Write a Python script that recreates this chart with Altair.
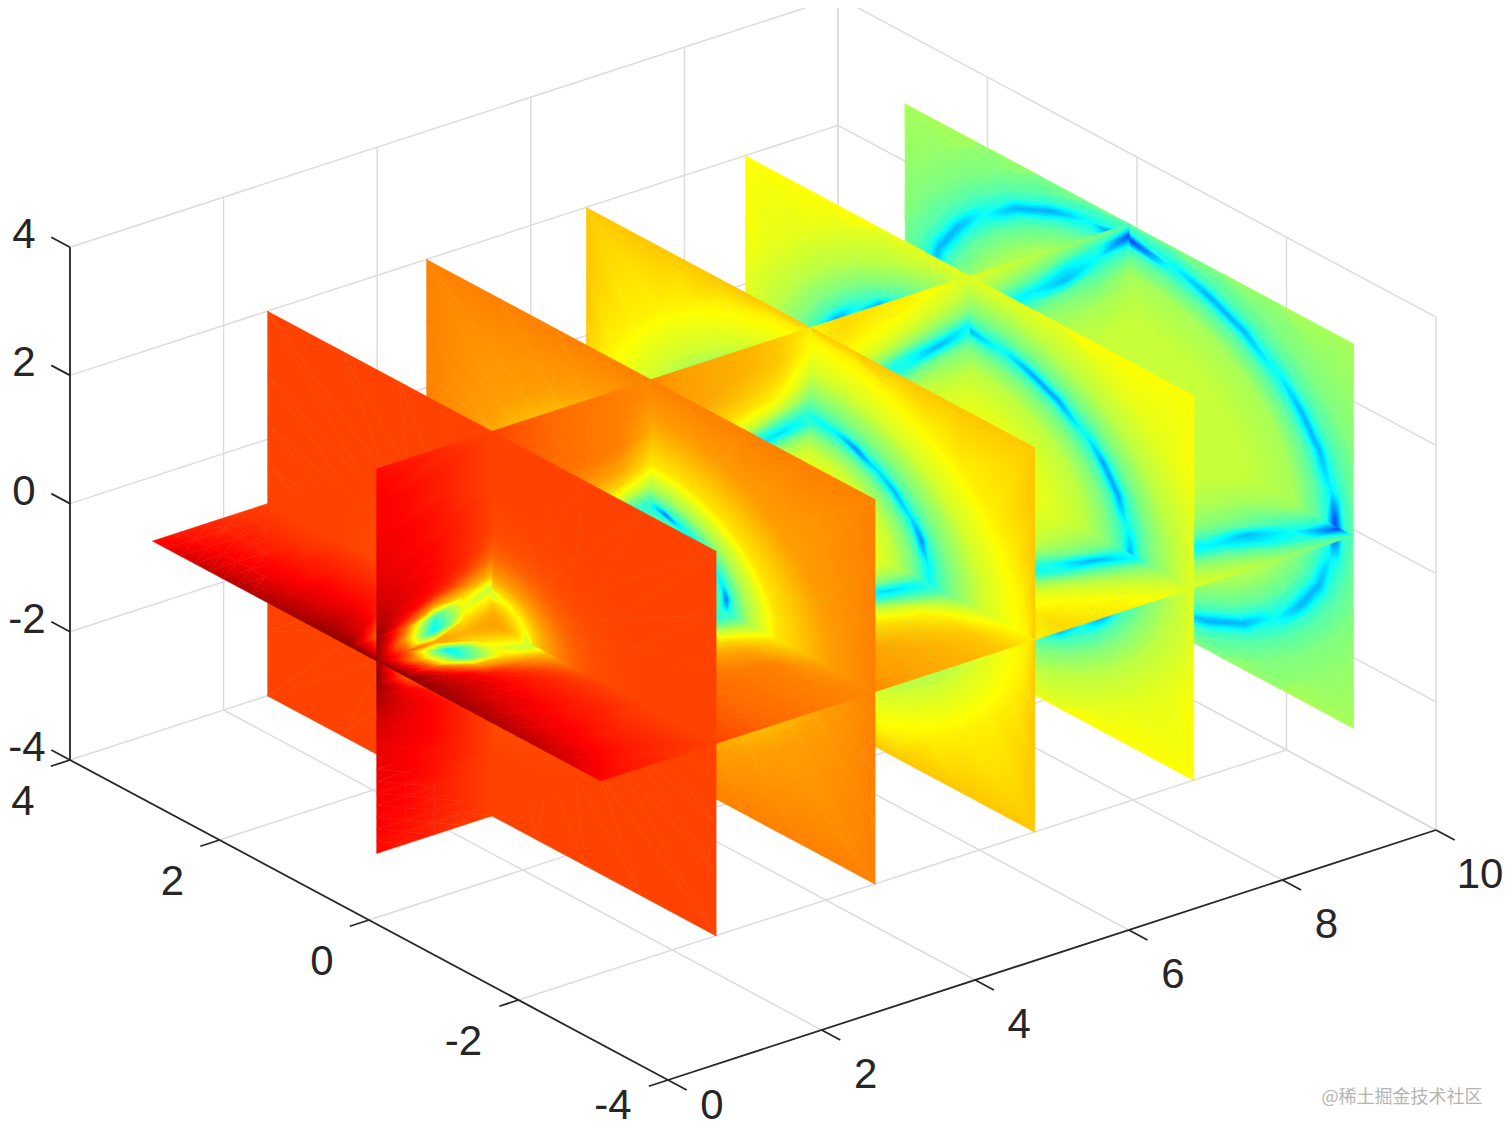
import math
import altair as alt

# ---------- values (percent of the jet colour range) ----------
SLICE_X = [1.6, 3.67, 5.75, 7.82, 9.9]
ANGLES = [0, 11.25, 22.5, 33.75, 45, 56.25, 67.5, 78.75, 90]

# each slice: distance from the axis, value at that distance, and the values along the dark ring
RADII_1 = [0, 0.2, 0.36, 0.46, 0.55, 0.7, 0.9, 1.1, 1.4, 2.0, 4.3]
VALUES_1 = [72, 70, 66, 62, 66, 71, 75, 78, 80, 81, 81]
RING_1 = [55, 60, 62, 62, 63, 62, 62, 60, 55]
RADII_2 = [0, 0.45, 0.7, 0.85, 0.95, 1.03, 1.12, 1.3, 1.7, 2.4, 4.3]
VALUES_2 = [66, 60, 52, 46, 42, 38, 44, 54, 65, 72, 75]
RING_2 = [38, 24, 36, 38, 38, 38, 36, 24, 38]
RADII_3 = [0, 0.7, 1.1, 1.35, 1.48, 1.6, 1.72, 1.9, 2.3, 2.9, 4.3]
VALUES_3 = [63, 62, 57, 50, 44, 38, 44, 50, 58, 64, 68]
RING_3 = [38, 36, 26, 34, 30, 34, 26, 36, 38]
RADII_4 = [0, 1.0, 1.55, 1.85, 2.02, 2.15, 2.28, 2.45, 2.75, 3.2, 4.3]
VALUES_4 = [60, 60, 56, 50, 44, 38, 44, 50, 56, 60, 62.5]
RING_4 = [30, 38, 28, 28, 38, 28, 28, 38, 30]
RADII_5 = [0, 1.5, 2.2, 2.5, 2.62, 2.75, 2.88, 3.0, 3.25, 3.6, 4.3]
VALUES_5 = [57, 57, 54, 47, 42, 38, 42, 46, 50, 52, 54]
RING_5 = [17, 36, 30, 30, 38, 30, 29, 38, 17]
SLICES = [(RADII_1, VALUES_1, RING_1, 3), (RADII_2, VALUES_2, RING_2, 5), (RADII_3, VALUES_3, RING_3, 5),
          (RADII_4, VALUES_4, RING_4, 5), (RADII_5, VALUES_5, RING_5, 5)]

PLANE_X = [0.1, 0.475, 0.85, 1.225, 1.6, 2.01, 2.43, 2.84, 3.26, 3.67, 4.09, 4.5, 4.92,
           5.33, 5.75, 6.16, 6.58, 6.99, 7.41, 7.82, 8.24, 8.65, 9.07, 9.48, 9.9]
PLANE_OFFSET = [0, 0.1875, 0.375, 0.5625, 0.75, 0.9375, 1.125, 1.3125, 1.5, 1.6875,
                1.875, 2.0625, 2.25, 2.4375, 2.625, 2.8125, 3]
# one column per PLANE_X value, one entry per PLANE_OFFSET value
PLANE_COLUMNS = [
    [98, 99, 99, 98, 98, 97, 97, 96, 96, 95, 95, 94, 93, 92, 91, 89, 87],
    [80, 72, 78, 90, 92, 92, 91, 91, 90, 90, 89, 89, 88, 88, 87, 86, 85],
    [72, 36, 42, 72, 85, 87, 87, 87, 87, 86, 86, 86, 85, 85, 85, 84, 84],
    [70, 66, 60, 66, 76, 82, 84, 84, 84, 84, 84, 83, 83, 83, 83, 83, 82],
    [72, 70, 65, 56, 69, 74, 78, 80, 81, 81, 81, 81, 81, 81, 81, 81, 81],
    [70, 69, 60, 40, 58, 66, 72, 76, 78, 79, 79, 79, 79, 79, 79, 79, 79],
    [68, 68, 66, 50, 42, 50, 62, 68, 72, 75, 76, 77, 77, 77, 77, 77, 77],
    [67, 67, 66, 62, 44, 44, 56, 65, 70, 73, 75, 76, 76, 76, 76, 76, 76],
    [66, 66, 66, 64, 56, 38, 48, 60, 67, 71, 73, 75, 75, 75, 75, 75, 75],
    [66, 64, 61, 57, 50, 42, 44, 54, 60, 65, 67, 69, 71, 72, 73, 74, 74],
    [65, 65, 65, 64, 61, 55, 36, 46, 59, 65, 68, 70, 72, 72, 72, 72, 72],
    [65, 65, 65, 64, 62, 58, 45, 38, 52, 62, 66, 68, 70, 71, 71, 71, 71],
    [64, 64, 64, 64, 62, 60, 55, 40, 40, 56, 62, 66, 68, 69, 70, 70, 70],
    [63, 63, 63, 63, 62, 60, 57, 50, 34, 46, 58, 63, 65, 67, 68, 68, 68],
    [63, 63, 62, 62, 62, 60, 57, 52, 42, 42, 49, 54, 58, 60, 62, 63, 64],
    [62, 62, 62, 62, 62, 61, 60, 56, 50, 37, 46, 56, 61, 63, 65, 66, 66],
    [61, 61, 61, 61, 61, 60, 60, 58, 53, 44, 38, 50, 58, 61, 63, 64, 65],
    [61, 61, 61, 61, 61, 60, 60, 59, 56, 50, 40, 40, 52, 58, 61, 63, 64],
    [60, 60, 60, 60, 60, 60, 59, 58, 56, 53, 48, 30, 46, 54, 58, 60, 62],
    [60, 60, 60, 60, 60, 60, 59, 58, 56, 53, 50, 42, 38, 50, 54, 57, 59],
    [59, 59, 59, 59, 59, 59, 58, 57, 56, 54, 52, 47, 38, 41, 50, 55, 58],
    [58, 58, 58, 58, 58, 58, 58, 57, 56, 55, 53, 50, 44, 36, 46, 52, 56],
    [58, 58, 58, 58, 58, 58, 58, 57, 56, 55, 53, 51, 47, 31, 36, 47, 53],
    [57, 57, 57, 57, 57, 57, 57, 57, 56, 55, 54, 51, 48, 44, 38, 42, 50],
    [57, 57, 57, 57, 57, 57, 57, 57, 57, 56, 55, 54, 53, 48, 42, 20, 46],
]
# the y=0 plane is lighter than the z=0 plane next to x=0
Y_PLANE_HEAD = [
    [98, 99, 98, 96, 94, 92, 91, 90, 90, 89, 89, 88, 88, 88, 88, 87, 87],
    [80, 72, 78, 88, 90, 90, 89, 89, 88, 88, 88, 87, 87, 87, 86, 86, 85],
]

X_TICKS = [0, 2, 4, 6, 8, 10]
Y_TICKS = [-4, -2, 0, 2, 4]
Z_TICKS = [-4, -2, 0, 2, 4]
JET_STOPS = [0, 12.5, 37.5, 62.5, 87.5, 100]
JET_RGB = [(0, 0, 128), (0, 0, 255), (0, 255, 255), (255, 255, 0), (255, 0, 0), (128, 0, 0)]
WATERMARK = "@稀土掘金技术社区"

# ---------- oblique view of the box, as measured from the axes ----------
ORIGIN = (668.0, 1080.0)
UX = (76.8, -25.0)
UY = (-74.75, -40.0)
UZ = (0.0, -64.1)


def view(x, y, z):
    return (ORIGIN[0] + UX[0] * x + UY[0] * (y + 4) + UZ[0] * (z + 4),
            ORIGIN[1] + UX[1] * x + UY[1] * (y + 4) + UZ[1] * (z + 4))


def jet(v):
    for k in range(len(JET_STOPS) - 1):
        a, b = JET_STOPS[k], JET_STOPS[k + 1]
        if v <= b:
            t = (v - a) / (b - a)
            c0, c1 = JET_RGB[k], JET_RGB[k + 1]
            return "#%02x%02x%02x" % tuple(round(p + (q - p) * t) for p, q in zip(c0, c1))
    return "#800000"


def paint(pts, vals):
    """Shade a triangle between its three corner values, as the picture's interpolated surface does."""
    lo, hi = min(vals), max(vals)
    if hi - lo < 0.25:
        return jet((lo + hi) / 2)
    xs, ys = [p[0] for p in pts], [p[1] for p in pts]
    bx, by = min(xs), min(ys)
    w, h = max(xs) - bx, max(ys) - by
    u = [((p[0] - bx) / w, (p[1] - by) / h) for p in pts]
    d = (u[1][0] - u[0][0]) * (u[2][1] - u[0][1]) - (u[2][0] - u[0][0]) * (u[1][1] - u[0][1])
    a = ((vals[1] - vals[0]) * (u[2][1] - u[0][1]) - (vals[2] - vals[0]) * (u[1][1] - u[0][1])) / d
    b = ((vals[2] - vals[0]) * (u[1][0] - u[0][0]) - (vals[1] - vals[0]) * (u[2][0] - u[0][0])) / d
    n = a * a + b * b
    i = vals.index(lo)
    x1, y1 = u[i]
    x2, y2 = x1 + a / n * (hi - lo), y1 + b / n * (hi - lo)
    levels = [lo] + [s for s in JET_STOPS if lo < s < hi] + [hi]
    return {"gradient": "linear", "x1": round(x1, 4), "y1": round(y1, 4), "x2": round(x2, 4), "y2": round(y2, 4),
            "stops": [{"offset": round((s - lo) / (hi - lo), 4), "color": jet(s)} for s in levels]}


cells = []


def add_quad(corners, values, key):
    pts = [view(*c) for c in corners]
    for tri in ((0, 1, 2), (0, 2, 3)):
        p = [pts[i] for i in tri]
        v = [values[i] for i in tri]
        area = abs((p[1][0] - p[0][0]) * (p[2][1] - p[0][1]) - (p[2][0] - p[0][0]) * (p[1][1] - p[0][1]))
        if area < 0.05:
            continue
        ring = [[round(q[0], 2), round(q[1], 2)] for q in p] + [[round(p[0][0], 2), round(p[0][1], 2)]]
        cells.append((key, {"type": "Feature", "properties": {"g": paint(p, v)},
                            "geometry": {"type": "Polygon", "coordinates": [ring]}}))


def slab_of(x_mid):
    return 2 * sum(1 for s in SLICE_X if x_mid > s) + 1


def slice_node(radius, angle):
    t = math.radians(angle)
    c, s = math.cos(t), math.sin(t)
    edge = 3 / max(c, s)
    r = min(radius, edge)
    return r * c, r * s


for k, (sx, (radii, values, ring, ring_at)) in enumerate(zip(SLICE_X, SLICES)):
    def val(i, j):
        return ring[j] if i == ring_at else values[i]
    for i in range(len(radii) - 1):
        for j in range(len(ANGLES) - 1):
            n = [slice_node(radii[i], ANGLES[j]), slice_node(radii[i + 1], ANGLES[j]),
                 slice_node(radii[i + 1], ANGLES[j + 1]), slice_node(radii[i], ANGLES[j + 1])]
            v = [val(i, j), val(i + 1, j), val(i + 1, j + 1), val(i, j + 1)]
            for sy in (-1, 1):
                for sz in (-1, 1):
                    add_quad([(sx, sy * a, sz * b) for a, b in n], v, (-(2 * k + 2), -sy, sz))


def y_column(c):
    return Y_PLANE_HEAD[c] if c < len(Y_PLANE_HEAD) else PLANE_COLUMNS[c]


for c in range(len(PLANE_X) - 1):
    x0, x1 = PLANE_X[c], PLANE_X[c + 1]
    s = slab_of((x0 + x1) / 2)
    for r in range(len(PLANE_OFFSET) - 1):
        a0, a1 = PLANE_OFFSET[r], PLANE_OFFSET[r + 1]
        v = [PLANE_COLUMNS[c][r], PLANE_COLUMNS[c + 1][r], PLANE_COLUMNS[c + 1][r + 1], PLANE_COLUMNS[c][r + 1]]
        w = [y_column(c)[r], y_column(c + 1)[r], y_column(c + 1)[r + 1], y_column(c)[r + 1]]
        for sg in (-1, 1):
            add_quad([(x0, 0, sg * a0), (x1, 0, sg * a0), (x1, 0, sg * a1), (x0, 0, sg * a1)], w, (-s, 0, sg))
            add_quad([(x0, sg * a0, 0), (x1, sg * a0, 0), (x1, sg * a1, 0), (x0, sg * a1, 0)], v, (-s, -sg, 0))

cells.sort(key=lambda t: t[0])
features = [f for _, f in cells]

# ---------- lines of the box ----------
grid_segments = []


def seg(store, a, b):
    p, q = view(*a), view(*b)
    store.append({"x": p[0], "y": p[1], "x2": q[0], "y2": q[1]})


for x in X_TICKS:
    seg(grid_segments, (x, 4, -4), (x, 4, 4))
    if x not in (0, 10):
        seg(grid_segments, (x, 4, -4), (x, -4, -4))
for y in Y_TICKS:
    seg(grid_segments, (10, y, -4), (10, y, 4))
    if y not in (4, -4):
        seg(grid_segments, (0, y, -4), (10, y, -4))
for z in Z_TICKS:
    seg(grid_segments, (0, 4, z), (10, 4, z))
    seg(grid_segments, (10, 4, z), (10, -4, z))
seg(grid_segments, (10, 4, -4), (10, -4, -4))

axis_segments = []
seg(axis_segments, (0, 4, -4), (0, 4, 4))
seg(axis_segments, (0, 4, -4), (0, -4, -4))
seg(axis_segments, (0, -4, -4), (10, -4, -4))
labels = []
for z in Z_TICKS:
    seg(axis_segments, (0, 4, z), (0, 4.25, z))
    p = view(0, 4, z)
    labels.append({"x": 27 if z < 0 else p[0] - 46, "y": p[1] - 12, "t": str(z)})
for y in Y_TICKS:
    seg(axis_segments, (0, y, -4), (-0.25, y, -4))
    p = view(0, y, -4)
    labels.append({"x": p[0] - 47 - (8 if y < 0 else 0), "y": min(p[1] + 42, 1106), "t": str(y)})
for x in X_TICKS:
    seg(axis_segments, (x, -4, -4), (x, -4.25, -4))
    p = view(x, -4, -4)
    labels.append({"x": min(p[0] + 44, 1480), "y": min(p[1] + 45, 1106), "t": str(x)})

# ---------- chart ----------
W, H = 1496, 1122
px = alt.Scale(domain=[8, 8 + W], range=[0, W], nice=False, zero=False)
py = alt.Scale(domain=[8, 8 + H], range=[0, H], nice=False, zero=False)
X = alt.X("x:Q", scale=px, axis=None)
Y = alt.Y("y:Q", scale=py, axis=None)

grid = alt.Chart(alt.Data(values=grid_segments)).mark_rule(
    color="#dcdcdc", strokeWidth=1.5).encode(X, Y, x2="x2:Q", y2="y2:Q")
axes = alt.Chart(alt.Data(values=axis_segments)).mark_rule(
    color="#262626", strokeWidth=1.8).encode(X, Y, x2="x2:Q", y2="y2:Q")
surface = alt.Chart(
    alt.InlineData(values={"type": "FeatureCollection", "features": features},
                   format=alt.DataFormat(property="features"))
).mark_geoshape(strokeWidth=0.5).encode(
    fill=alt.Fill("properties.g:N", scale=None),
    stroke=alt.Stroke("properties.g:N", scale=None),
).project(type="identity", scale=1, translate=[-8, -8])
text = alt.Chart(alt.Data(values=labels)).mark_text(
    font="Liberation Sans", fontSize=42, color="#262626", align="center", baseline="middle"
).encode(X, Y, text="t:N")
mark = alt.Chart(alt.Data(values=[{"x": 1402, "y": 1098, "t": WATERMARK}])).mark_text(
    font="Noto Sans CJK SC", fontSize=18, color="#b4b4b4", align="center", baseline="middle"
).encode(X, Y, text="t:N")

chart = alt.layer(grid, surface, axes, text, mark).properties(
    width=W, height=H, padding=0, autosize=alt.AutoSizeParams(type="none")
).configure_view(stroke=None)

chart.save("out.html", embed_options={"renderer": "svg", "actions": False})
